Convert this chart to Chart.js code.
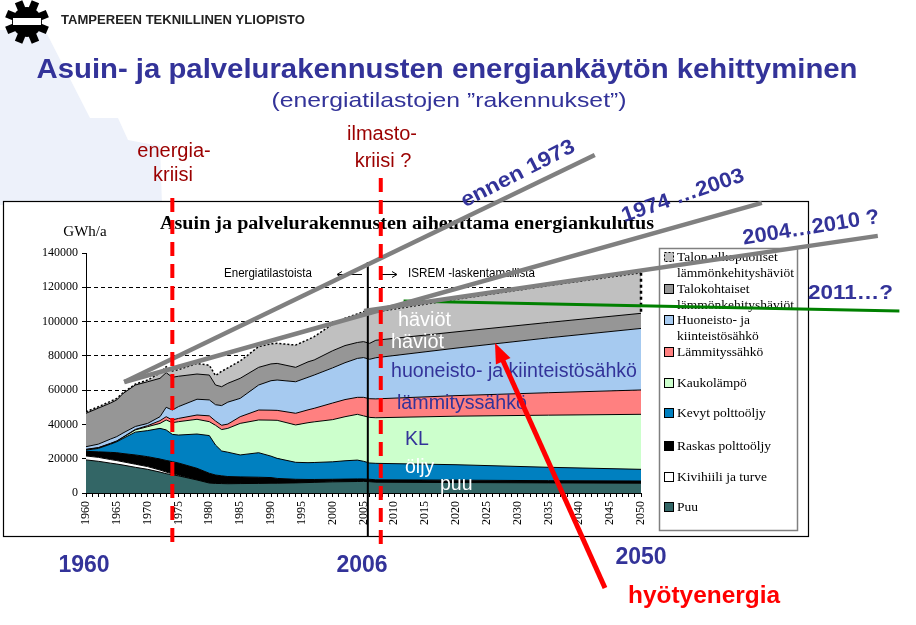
<!DOCTYPE html>
<html>
<head>
<meta charset="utf-8">
<script src="https://cdn.jsdelivr.net/npm/chart.js@4.4.1/dist/chart.umd.min.js"></script>
<style>
  html, body { margin: 0; padding: 0; background: #fff; overflow: hidden; }
  canvas { display: block; }
</style>
</head>
<body>
<canvas id="chart" width="916" height="625"></canvas>
<script>
// vuodet ja kerrosten paksuudet (GWh/a), alhaalta ylös
const years = [1960, 1962, 1964, 1965, 1966, 1968, 1970, 1972, 1973, 1974, 1975, 1978, 1980, 1981, 1982, 1983,
  1985, 1988, 1990, 1991, 1994, 1996, 1997, 2000, 2002, 2004, 2005, 2006, 2007, 2020, 2035, 2050];

const puu = [19300, 18500, 17400, 16900, 16300, 15000, 13800, 12200, 11300, 10600, 10000, 7600, 5800, 5600, 5500, 5400,
  5500, 5600, 5700, 5700, 5900, 6100, 6200, 6500, 6600, 6700, 6800, 6600, 6300, 6100, 5900, 5700];
const kivihiili = [2300, 2300, 2100, 2000, 1900, 1800, 1600, 1200, 900, 600, 300, 0, 0, 0, 0, 0,
  0, 0, 0, 0, 0, 0, 0, 0, 0, 0, 0, 0, 0, 0, 0, 0];
const raskas = [2700, 3200, 4200, 4600, 4800, 5400, 5800, 6400, 6800, 7100, 7200, 6800, 5700, 4900, 4500, 4200,
  3900, 3600, 3300, 2800, 2100, 1800, 1700, 1500, 1500, 1500, 1400, 1400, 1400, 1400, 1300, 1300];
const kevyt = [700, 2000, 4800, 6400, 8800, 13300, 15200, 17900, 17800, 15900, 16300, 20000, 22000, 17500, 14500, 14200,
  12800, 14300, 12500, 11700, 9900, 9800, 9900, 10200, 10700, 11000, 10300, 9500, 9600, 9000, 7800, 6800];
const kaukolampo = [300, 300, 300, 300, 600, 1300, 2300, 2900, 5800, 6800, 7800, 8600, 8100, 11500, 12500, 13900,
  18400, 19100, 21000, 22200, 21800, 23300, 23700, 24600, 25700, 26700, 26500, 26600, 26600, 28300, 30400, 32100];
const lammityssahko = [200, 200, 200, 200, 200, 300, 600, 1600, 1900, 1600, 1900, 2500, 3400, 2500, 2500, 2500,
  3900, 5800, 5800, 5800, 6800, 7500, 7900, 9700, 10000, 9900, 10800, 10900, 11000, 12000, 13100, 14200];
const huoneistosahko = [1500, 2000, 2500, 2500, 2400, 1700, 1300, 2300, 5500, 5800, 6900, 9200, 9300, 9500, 11500, 12800,
  10700, 14600, 17200, 17700, 18400, 19000, 19400, 20500, 21500, 22700, 23200, 23000, 24000, 27700, 32000, 35900];
const talokohtaiset = [19500, 21000, 21000, 21400, 23000, 24200, 24300, 22400, 20200, 19100, 17700, 14700, 14500, 11500, 11000, 11000,
  11700, 10300, 9800, 9700, 8400, 9000, 8800, 10000, 10000, 9300, 9300, 9300, 10200, 9500, 9000, 8800];
const ulkopuoliset = [900, 800, 1000, 900, 500, 500, 1000, 3100, 3500, 3700, 3900, 6200, 5700, 5500, 9000, 9000,
  10100, 12100, 11700, 11700, 13000, 13000, 13600, 15500, 15900, 16700, 17500, 17200, 16500, 19000, 21500, 23700];

const seriesNames = ['Puu', 'Kivihiili ja turve', 'Raskas polttoöljy', 'Kevyt polttoöljy', 'Kaukolämpö',
  'Lämmityssähkö', 'Huoneisto- ja kiinteistösähkö', 'Talokohtaiset lämmönkehityshäviöt',
  'Talon ulkopuoliset lämmönkehityshäviöt'];
const seriesColors = ['#336666', '#ffffff', '#000000', '#0080c0', '#ccffcc', '#ff8080', '#a6caf0', '#969696', '#c0c0c0'];
const seriesValues = [puu, kivihiili, raskas, kevyt, kaukolampo, lammityssahko, huoneistosahko, talokohtaiset, ulkopuoliset];

// legendan rivit: sarja + tekstirivit
const legendSeries = [8, 7, 6, 5, 4, 3, 2, 1, 0];
const legendLines = [['Talon ulkopuoliset', 'lämmönkehityshäviöt'], ['Talokohtaiset', 'lämmönkehityshäviöt'],
  ['Huoneisto- ja', 'kiinteistösähkö'], ['Lämmityssähkö'], ['Kaukolämpö'], ['Kevyt polttoöljy'],
  ['Raskas polttoöljy'], ['Kivihiili ja turve'], ['Puu']];

// trendiviivat [vuosi, GWh/a]
const ennen1973 = [[1966.2, 64750], [2042.5, 197200]];
const trend1974 = [[1966.2, 64750], [2069.6, 169200]];
const trend2004 = [[2005.1, 106200], [2088.4, 150000]];
const trend2011 = [[2011.5, 112000], [2091.9, 106200]];

const energiakriisi = 1974;
const ilmastokriisi = 2007.8;
const tilastoRaja = 2005.7;

const yMax = 140000;
const yStep = 20000;

const BLUE = '#333399';
const SANS = 'Liberation Sans, Arial, sans-serif';
const SERIF = 'Liberation Serif, Times New Roman, serif';

function txt(ctx, s, x, y, o) {
  ctx.save();
  ctx.font = o.font;
  ctx.fillStyle = o.color || '#000';
  ctx.textAlign = o.align || 'center';
  ctx.textBaseline = 'middle';
  ctx.translate(x, y);
  if (o.angle) ctx.rotate(o.angle * Math.PI / 180);
  if (o.width) {
    const w = ctx.measureText(s).width;
    ctx.scale(o.width / w, 1);
  }
  ctx.fillText(s, 0, 0);
  ctx.restore();
}

const slidePlugin = {
  id: 'slide',
  beforeDraw(chart) {
    const ctx = chart.ctx;
    ctx.save();
    ctx.fillStyle = '#fff';
    ctx.fillRect(0, 0, 916, 625);

    // vaalea taustakuvio
    ctx.fillStyle = '#edf1fa';
    ctx.beginPath();
    ctx.moveTo(0, 30); ctx.lineTo(45, 30); ctx.lineTo(90, 118); ctx.lineTo(118, 118);
    ctx.lineTo(128, 140); ctx.lineTo(160, 146); ctx.lineTo(162, 205); ctx.lineTo(0, 205);
    ctx.closePath(); ctx.fill();

    // logo
    ctx.fillStyle = '#000';
    ctx.beginPath(); ctx.arc(27, 22, 15, 0, Math.PI * 2); ctx.fill();
    for (let k = 0; k < 8; k++) {
      ctx.save();
      ctx.translate(27, 22);
      ctx.rotate(k * Math.PI / 4 + Math.PI / 8);
      ctx.fillRect(-4, -22, 8, 10);
      ctx.restore();
    }
    ctx.fillStyle = '#fff';
    ctx.fillRect(13, 18, 28, 7);
    txt(ctx, 'TAMPEREEN TEKNILLINEN YLIOPISTO', 61, 21, { font: 'bold 12px ' + SANS, color: '#222', align: 'left', width: 244 });

    // otsikot
    txt(ctx, 'Asuin- ja palvelurakennusten energiankäytön kehittyminen', 447, 70, { font: 'bold 28px ' + SANS, color: BLUE, width: 821 });
    txt(ctx, '(energiatilastojen ”rakennukset”)', 449, 101, { font: '21px ' + SANS, color: BLUE, width: 355 });

    txt(ctx, 'energia-', 174, 151, { font: '20px ' + SANS, color: '#9b0000' });
    txt(ctx, 'kriisi', 173, 175, { font: '20px ' + SANS, color: '#9b0000' });
    txt(ctx, 'ilmasto-', 382, 134, { font: '20px ' + SANS, color: '#9b0000' });
    txt(ctx, 'kriisi ?', 383, 161, { font: '20px ' + SANS, color: '#9b0000' });

    // kaavion kehys
    ctx.fillStyle = '#fff';
    ctx.fillRect(3, 201, 805, 335);
    ctx.strokeStyle = '#000';
    ctx.lineWidth = 1.2;
    ctx.strokeRect(3.5, 201.5, 805, 335);

    txt(ctx, 'Asuin ja palvelurakennusten aiheuttama energiankulutus', 160, 224, { font: 'bold 18px ' + SERIF, align: 'left', width: 494 });
    txt(ctx, 'GWh/a', 85, 232, { font: '15px ' + SERIF });

    txt(ctx, 'Energiatilastoista', 224, 274, { font: '12px ' + SANS, align: 'left', width: 88 });
    txt(ctx, 'ISREM -laskentamallista', 408, 274, { font: '12px ' + SANS, align: 'left', width: 127 });
    ctx.strokeStyle = '#000';
    ctx.lineWidth = 1;
    ctx.beginPath();
    ctx.moveTo(362, 274.5); ctx.lineTo(338, 274.5);
    ctx.moveTo(342, 271.5); ctx.lineTo(337, 274.5); ctx.lineTo(342, 277.5);
    ctx.moveTo(380, 274.5); ctx.lineTo(396, 274.5);
    ctx.moveTo(392, 271.5); ctx.lineTo(397, 274.5); ctx.lineTo(392, 277.5);
    ctx.stroke();

    // legenda
    ctx.fillStyle = '#fff';
    ctx.fillRect(659, 248, 138, 282);
    ctx.strokeStyle = '#808080';
    ctx.lineWidth = 1.5;
    ctx.strokeRect(659.5, 248.5, 138, 282);
    const rowY = [257, 289, 320, 352, 383, 413, 446, 477, 507];
    legendSeries.forEach((si, r) => {
      const y = rowY[r];
      ctx.fillStyle = seriesColors[si];
      ctx.fillRect(664, y - 5, 10, 10);
      ctx.strokeStyle = '#000';
      ctx.lineWidth = 1;
      if (si === 8) ctx.setLineDash([2, 2]);
      ctx.strokeRect(664.5, y - 4.5, 9, 9);
      ctx.setLineDash([]);
      legendLines[r].forEach((line, li) => {
        txt(ctx, line, 677, y + li * 16, { font: '13.5px ' + SERIF, align: 'left' });
      });
    });
    ctx.restore();
  },
  afterDatasetDraw(chart, args) {
    if (args.index !== 0) return;
    const ctx = chart.ctx, xs = chart.scales.x, ys = chart.scales.y;
    ctx.save();
    // tilastojen ja mallin raja
    const xr = xs.getPixelForValue(tilastoRaja);
    ctx.strokeStyle = '#000';
    ctx.lineWidth = 2;
    ctx.beginPath(); ctx.moveTo(xr, 262); ctx.lineTo(xr, 536); ctx.stroke();
    // katkoviivareuna 2050
    const last = years.length - 1;
    let below = 0;
    for (let s = 0; s < 8; s++) below += seriesValues[s][last];
    const top = below + ulkopuoliset[last];
    const xe = xs.getPixelForValue(years[last]);
    ctx.lineWidth = 2.5;
    ctx.setLineDash([3, 3]);
    ctx.beginPath(); ctx.moveTo(xe, ys.getPixelForValue(top)); ctx.lineTo(xe, ys.getPixelForValue(below)); ctx.stroke();
    ctx.restore();
  },
  afterDatasetsDraw(chart) {
    const ctx = chart.ctx, xs = chart.scales.x;
    ctx.save();
    // tekstit kaavion sisällä
    txt(ctx, 'häviöt', 398, 320, { font: '20px ' + SANS, color: '#fff', align: 'left', width: 53 });
    txt(ctx, 'häviöt', 391, 342, { font: '20px ' + SANS, color: '#fff', align: 'left', width: 53 });
    txt(ctx, 'huoneisto- ja kiinteistösähkö', 391, 372, { font: '19.5px ' + SANS, color: BLUE, align: 'left', width: 246 });
    txt(ctx, 'lämmityssähkö', 397, 404, { font: '19.5px ' + SANS, color: BLUE, align: 'left', width: 130 });
    txt(ctx, 'KL', 405, 440, { font: '19.5px ' + SANS, color: BLUE, align: 'left' });
    txt(ctx, 'öljy', 405, 468, { font: '19.5px ' + SANS, color: '#fff', align: 'left' });
    txt(ctx, 'puu', 440, 485, { font: '19.5px ' + SANS, color: '#fff', align: 'left' });

    // kriisiviivat
    ctx.strokeStyle = '#ff0000';
    ctx.lineWidth = 4;
    ctx.setLineDash([14, 8]);
    const x1 = xs.getPixelForValue(energiakriisi);
    const x2 = xs.getPixelForValue(ilmastokriisi);
    ctx.beginPath(); ctx.moveTo(x1, 198); ctx.lineTo(x1, 546); ctx.stroke();
    ctx.beginPath(); ctx.moveTo(x2, 178); ctx.lineTo(x2, 546); ctx.stroke();
    ctx.setLineDash([]);

    // trendien nimet
    txt(ctx, 'ennen 1973', 518, 174, { font: 'bold 21px ' + SANS, color: BLUE, angle: -27, width: 125 });
    txt(ctx, '1974 …2003', 683, 196, { font: 'bold 21px ' + SANS, color: BLUE, angle: -19, width: 128 });
    txt(ctx, '2004…2010 ?', 811, 228, { font: 'bold 21px ' + SANS, color: BLUE, angle: -9, width: 138 });
    txt(ctx, '2011…?', 808, 293, { font: 'bold 21px ' + SANS, color: BLUE, align: 'left', width: 85 });

    // alareunan tekstit
    txt(ctx, '1960', 84, 566, { font: 'bold 23px ' + SANS, color: BLUE });
    txt(ctx, '2006', 362, 566, { font: 'bold 23px ' + SANS, color: BLUE });
    txt(ctx, '2050', 641, 558, { font: 'bold 23px ' + SANS, color: BLUE });
    txt(ctx, 'hyötyenergia', 704, 596, { font: 'bold 24px ' + SANS, color: '#ff0000', width: 152 });

    // nuoli
    const tx = 605, ty = 588, hx = 495, hy = 343;
    const len = Math.hypot(hx - tx, hy - ty);
    const ux = (hx - tx) / len, uy = (hy - ty) / len;
    ctx.strokeStyle = '#ff0000';
    ctx.fillStyle = '#ff0000';
    ctx.lineWidth = 5;
    ctx.beginPath(); ctx.moveTo(tx, ty); ctx.lineTo(hx - ux * 16, hy - uy * 16); ctx.stroke();
    ctx.beginPath();
    ctx.moveTo(hx, hy);
    ctx.lineTo(hx - ux * 20 - uy * 8, hy - uy * 20 + ux * 8);
    ctx.lineTo(hx - ux * 20 + uy * 8, hy - uy * 20 - ux * 8);
    ctx.closePath(); ctx.fill();
    ctx.restore();
  }
};

const areaSets = seriesValues.map((vals, i) => ({
  type: 'line',
  label: seriesNames[i],
  data: years.map((x, j) => ({ x: x, y: vals[j] })),
  backgroundColor: seriesColors[i],
  borderColor: '#000',
  borderWidth: i === 8 ? 1.5 : 1,
  borderDash: i === 8 ? [2, 2] : [],
  fill: i === 0 ? 'origin' : '-1',
  pointRadius: 0,
  tension: 0,
  yAxisID: 'y'
}));

const trendSets = [ennen1973, trend1974, trend2004, trend2011].map((pts, i) => ({
  type: 'line',
  label: 'trendi' + i,
  data: pts.map(p => ({ x: p[0], y: p[1] })),
  borderColor: i === 3 ? '#008000' : '#808080',
  borderWidth: i === 3 ? 3 : 4.5,
  fill: false,
  pointRadius: 0,
  clip: false,
  order: -1,
  yAxisID: 'yt'
}));

new Chart(document.getElementById('chart'), {
  type: 'line',
  data: { datasets: areaSets.concat(trendSets) },
  options: {
    responsive: false,
    animation: false,
    devicePixelRatio: 1,
    events: [],
    layout: { padding: { left: 26, top: 253, right: 275, bottom: 87 } },
    plugins: { legend: { display: false }, title: { display: false }, tooltip: { enabled: false } },
    scales: {
      x: {
        type: 'linear', min: 1960, max: 2050,
        afterFit: s => { s.height = 45; },
        ticks: {
          stepSize: 1, autoSkip: false, maxTicksLimit: 200, minRotation: 90, maxRotation: 90, padding: 4,
          color: '#000', font: { family: SERIF, size: 12 },
          callback: v => (v % 5 === 0 ? String(v) : '')
        },
        grid: { drawOnChartArea: false, tickLength: 4, tickColor: '#000', tickWidth: 1 },
        border: { color: '#000', width: 1 }
      },
      y: {
        stacked: true, min: 0, max: yMax,
        afterFit: s => { s.width = 60; },
        ticks: { stepSize: yStep, padding: 4, color: '#000', font: { family: SERIF, size: 12 }, callback: v => String(v) },
        grid: {
          color: c => (c.tick && (c.tick.value === 0 || c.tick.value === yMax) ? 'rgba(0,0,0,0)' : '#000'),
          lineWidth: 1, tickLength: 4, tickColor: '#000', tickBorderDash: []
        },
        border: { color: '#000', width: 1, dash: [4, 3] }
      },
      yt: { display: false, min: 0, max: yMax }
    }
  },
  plugins: [slidePlugin]
});
</script>
</body>
</html>
